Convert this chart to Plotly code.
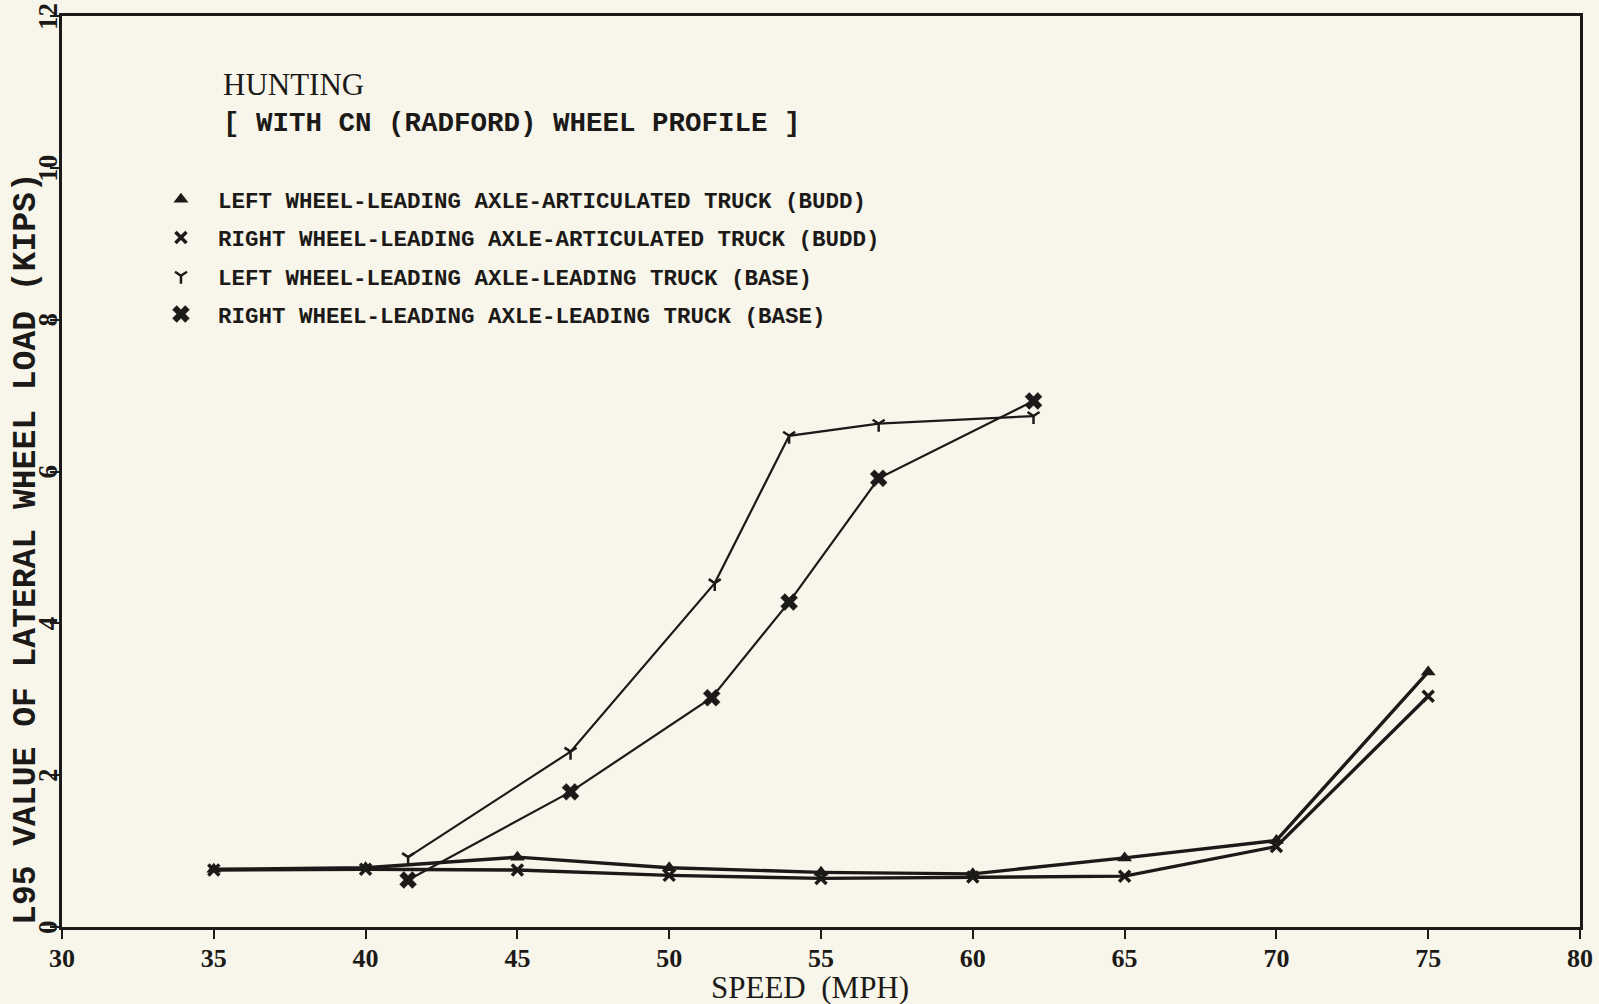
import plotly.graph_objects as go

# Speeds (mph) and L95 lateral wheel loads (kips)
speed_budd = [35, 40, 45, 50, 55, 60, 65, 70, 75]
left_budd = [0.76, 0.78, 0.92, 0.78, 0.72, 0.70, 0.91, 1.14, 3.36]
right_budd = [0.75, 0.76, 0.75, 0.68, 0.64, 0.66, 0.67, 1.06, 3.04]

speed_base_left = [41.4, 46.75, 51.5, 53.95, 56.9, 62.0]
left_base = [0.92, 2.31, 4.53, 6.47, 6.63, 6.73]

speed_base_right = [41.4, 46.75, 51.4, 53.95, 56.9, 62.0]
right_base = [0.62, 1.78, 3.02, 4.28, 5.91, 6.93]

x_ticks = [30, 35, 40, 45, 50, 55, 60, 65, 70, 75, 80]
y_ticks = [0, 2, 4, 6, 8, 10, 12]

legend_names = [
    "LEFT WHEEL-LEADING AXLE-ARTICULATED TRUCK (BUDD)",
    "RIGHT WHEEL-LEADING AXLE-ARTICULATED TRUCK (BUDD)",
    "LEFT WHEEL-LEADING AXLE-LEADING TRUCK (BASE)",
    "RIGHT WHEEL-LEADING AXLE-LEADING TRUCK (BASE)",
]

INK = "#1c1a18"
PAPER = "#f8f6ea"

series = [
    dict(x=speed_budd, y=left_budd, width=3.4,
         marker=dict(symbol="triangle-up", size=13, color=INK)),
    dict(x=speed_budd, y=right_budd, width=3.4,
         marker=dict(symbol="x-thin", size=11, color=INK,
                     line=dict(width=3.5, color=INK))),
    dict(x=speed_base_left, y=left_base, width=2.2,
         marker=dict(symbol="y-down", size=10, color=INK,
                     line=dict(width=2.5, color=INK))),
    dict(x=speed_base_right, y=right_base, width=2.2,
         marker=dict(symbol="x", size=15, color=INK,
                     line=dict(width=0.5, color=INK))),
]

fig = go.Figure()

for i, s in enumerate(series):
    fig.add_trace(go.Scatter(
        x=s["x"], y=s["y"], mode="lines+markers",
        line=dict(color=INK, width=s["width"]),
        marker=s["marker"], showlegend=False, hoverinfo="x+y",
    ))

# Marker-only legend entries (symbol followed by the series description)
for i, s in enumerate(series):
    fig.add_trace(go.Scatter(
        x=[None], y=[None], mode="markers", name=legend_names[i],
        marker=s["marker"], legendgroup=f"g{i}", showlegend=True,
    ))

tick_font = dict(family="Liberation Serif", size=26, color=INK, weight="bold")
y_tick_font = dict(family="Liberation Serif", size=27, color=INK, weight="bold")

# Sideways y tick labels, centred on each tick value
y_tick_labels = [
    dict(text=str(v), xref="paper", yref="y", x=-0.0093, y=v,
         xanchor="center", yanchor="middle", textangle=-90, showarrow=False,
         font=y_tick_font)
    for v in y_ticks
]

fig.update_layout(
    width=1599, height=1004,
    margin=dict(l=62, r=19, t=16, b=77),
    paper_bgcolor=PAPER, plot_bgcolor=PAPER,
    showlegend=True,
    legend=dict(
        x=0.054, y=0.822, xanchor="left", yanchor="top",
        bgcolor="rgba(0,0,0,0)", borderwidth=0,
        font=dict(family="Liberation Mono", size=22.5, color=INK, weight="bold"),
        tracegroupgap=6, itemwidth=64, traceorder="grouped",
    ),
    xaxis=dict(
        range=[30, 80], tickvals=x_ticks, ticktext=[str(v) for v in x_ticks],
        showgrid=False, zeroline=False, automargin=False,
        showline=True, linecolor=INK, linewidth=2.5, mirror=True,
        ticks="outside", ticklen=9, tickwidth=2, tickcolor=INK,
        ticklabelstandoff=-3, tickfont=tick_font,
    ),
    yaxis=dict(
        range=[0, 12], tickvals=y_ticks, showticklabels=False,
        showgrid=False, zeroline=False, automargin=False,
        showline=True, linecolor=INK, linewidth=2.5, mirror=True,
        ticks="outside", ticklen=9, tickwidth=2, tickcolor=INK,
    ),
    annotations=y_tick_labels + [
        dict(text="HUNTING", xref="paper", yref="paper", x=0.1047, y=0.925,
             xanchor="left", yanchor="middle", showarrow=False,
             font=dict(family="Liberation Serif", size=31, color=INK)),
        dict(text="[ WITH CN (RADFORD) WHEEL PROFILE ]", xref="paper", yref="paper",
             x=0.1047, y=0.882, xanchor="left", yanchor="middle", showarrow=False,
             font=dict(family="Liberation Mono", size=27.5, color=INK, weight="bold")),
        # axis titles
        dict(text="L95 VALUE OF LATERAL WHEEL LOAD (KIPS)", xref="paper", yref="paper",
             x=-0.0238, y=0.416, xanchor="center", yanchor="middle",
             textangle=-90, showarrow=False,
             font=dict(family="Liberation Mono", size=33, color=INK, weight="bold")),
        dict(text="SPEED  (MPH)", xref="paper", yref="paper",
             x=0.493, y=-0.066, xanchor="center", yanchor="middle", showarrow=False,
             font=dict(family="Liberation Serif", size=31, color=INK)),
    ],
)

fig.write_html("out.html")
